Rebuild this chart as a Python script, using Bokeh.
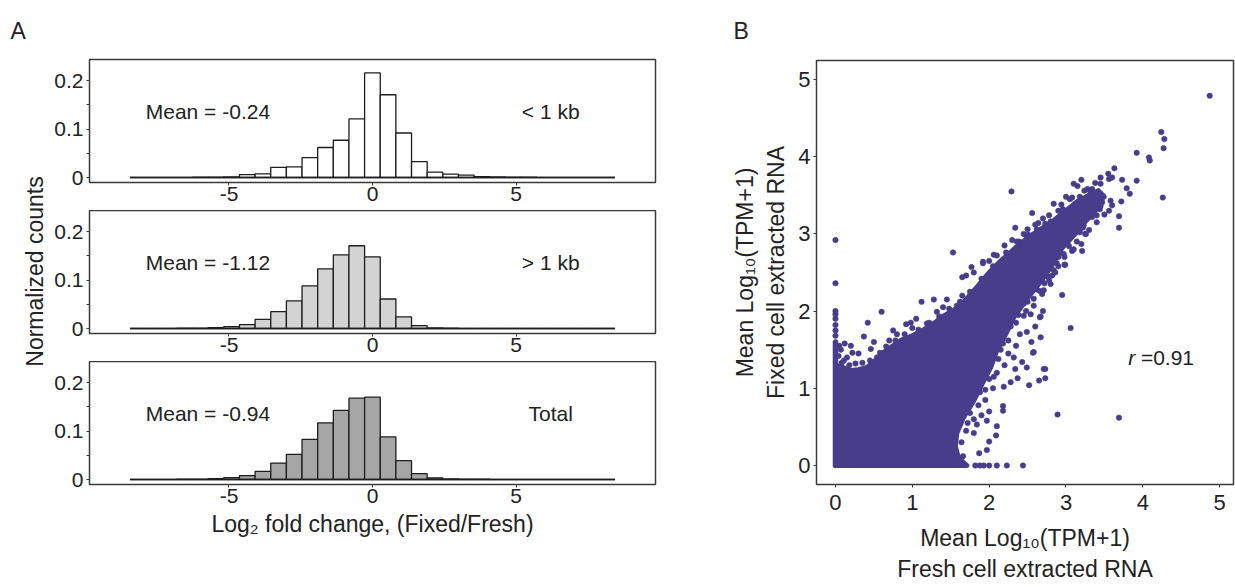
from bokeh.plotting import figure
from bokeh.layouts import row, column
from bokeh.models import Label, Range1d, FixedTicker
from bokeh.embed import file_html
from bokeh.resources import INLINE
import numpy as np

FONT = "Liberation Sans"
TXT = "#222222"
FRAME = "#3a3a3a"
PURPLE = "#483d8b"

# ---------------- histogram data ----------------
bin_start = -8.45
bin_width = 0.545
# normalized counts per bin (31 bins, centred on 0)
h_short = [0, 0, 0, 0, 0.0005, 0.001, 0.0015, 0.006, 0.0076, 0.021, 0.022, 0.041, 0.062, 0.077, 0.121,
           0.216, 0.171, 0.092, 0.033, 0.011, 0.007, 0.005, 0.002, 0.0015, 0.001, 0.0005, 0, 0, 0, 0, 0]
h_long = [0, 0, 0, 0.0005, 0.0007, 0.002, 0.004, 0.008, 0.019, 0.035, 0.057, 0.088, 0.123, 0.152, 0.171,
          0.148, 0.061, 0.024, 0.006, 0.0015, 0.0007, 0, 0, 0, 0, 0, 0, 0, 0, 0, 0]
h_total = [0, 0, 0, 0.0005, 0.0007, 0.002, 0.004, 0.008, 0.017, 0.034, 0.052, 0.083, 0.117, 0.143, 0.168,
           0.170, 0.088, 0.039, 0.012, 0.0035, 0.0014, 0.0007, 0.0005, 0, 0, 0, 0, 0, 0, 0, 0]
panel_heights = [h_short, h_long, h_total]
panel_tags = ["< 1 kb", "> 1 kb", "Total"]
panel_means = ["Mean = -0.24", "Mean = -1.12", "Mean = -0.94"]
panel_fills = ["#ffffff", "#d3d3d3", "#a6a6a6"]
hist_xticks = [-5, 0, 5]
hist_yticks = [0, 0.1, 0.2]

# ---------------- scatter data ----------------
# outline of the densely packed cloud of genes
cloud_x = [0, 0, 0.1, 0.2, 0.3, 0.41, 0.52, 0.63, 0.75, 0.85, 1.0, 1.15, 1.28, 1.4, 1.55, 1.7, 1.85,
           2.0, 2.15, 2.3, 2.41, 2.55, 2.7, 2.85, 3.0, 3.15, 3.3, 3.42, 3.48, 3.46, 3.38, 3.26, 3.12,
           2.95, 2.82, 2.7, 2.54, 2.42, 2.32, 2.22, 2.1, 2.02, 1.91, 1.8, 1.67, 1.58, 1.56, 1.6, 1.71]
cloud_y = [0, 1.30, 1.27, 1.23, 1.24, 1.27, 1.36, 1.47, 1.55, 1.62, 1.68, 1.76, 1.84, 1.93, 2.02, 2.15, 2.32,
           2.5, 2.65, 2.78, 2.88, 2.98, 3.08, 3.18, 3.30, 3.42, 3.50, 3.56, 3.50, 3.40, 3.30, 3.17, 3.00,
           2.82, 2.60, 2.42, 2.22, 2.06, 1.92, 1.71, 1.49, 1.27, 1.06, 0.84, 0.63, 0.42, 0.25, 0.1, 0.0]
column_top = 1.6   # genes with zero fresh-cell expression, densely stacked
genes = [
    (4.87, 4.79), (4.24, 4.32), (4.28, 4.23), (4.27, 4.11), (3.92, 4.05), (4.08, 3.99), (4.09, 3.95),
    (3.92, 3.69), (4.26, 3.47), (3.63, 3.85), (3.55, 3.78), (3.60, 3.73), (3.73, 3.70), (3.45, 3.73),
    (3.79, 3.59), (3.83, 3.52), (3.72, 3.42), (3.69, 3.23), (3.69, 3.08), (3.20, 3.70), (3.10, 3.65),
    (3.15, 3.62), (2.56, 3.27), (2.84, 3.39), (2.51, 2.99), (3.21, 2.78), (2.99, 2.60), (2.29, 3.55),
    (2.34, 3.08), (2.39, 2.90), (2.06, 2.73), (1.92, 2.64), (1.77, 2.57), (1.53, 2.76), (0, 2.92),
    (0, 2.36), (3.34, 3.58), (3.45, 3.65), (3.56, 3.71), (3.28, 3.58), (3.34, 3.52), (3.49, 3.48),
    (3.47, 3.41), (3.58, 3.43), (3.60, 3.37), (3.56, 3.30), (3.44, 3.32), (3.30, 3.22), (3.23, 3.11),
    (3.25, 3.00), (3.20, 2.87), (3.02, 2.87), (2.97, 2.74), (2.93, 3.00), (2.84, 2.83), (3.12, 3.39),
    (2.93, 3.30), (3.00, 3.48), (2.67, 3.04), (2.73, 3.13),
    (0.60, 1.99), (0.42, 1.85), (0.37, 1.67), (1.12, 2.12), (1.28, 2.15), (0.98, 1.85), (0.92, 1.83),
    (1.19, 1.84), (1.32, 1.99), (1.50, 1.99), (1.58, 2.07), (1.65, 2.20), (1.70, 2.46), (1.65, 2.44),
    (1.92, 2.62), (0.22, 1.46), (0.11, 1.36), (0.15, 1.40), (0.46, 1.51), (0.54, 1.40), (0.30, 1.45),
    (0.70, 1.62), (0.80, 1.70), (0.75, 1.75), (0.50, 1.60), (0.20, 1.55), (1.00, 1.78), (1.05, 1.90),
    (1.40, 2.05), (1.45, 2.15), (1.80, 2.50), (2.00, 2.65), (2.10, 2.72), (2.20, 2.85), (2.30, 2.92),
    (2.45, 3.00), (2.60, 3.12), (2.70, 3.20), (2.90, 3.30), (3.05, 3.45),
    (0, 1.68), (0, 1.75), (0, 1.82), (0, 1.90), (0, 1.96), (0, 2.00),
    (2.19, 1.02), (2.18, 0.77), (2.18, 0.71), (2.10, 0.51), (2.09, 0.39), (2.00, 0.31), (1.87, 0.16),
    (1.97, 0.20), (1.80, 0.42), (1.84, 0.53), (1.97, 0.58), (2.89, 0.66), (3.69, 0.62), (3.06, 1.78),
    (2.73, 1.13), (2.71, 1.25), (2.65, 1.10), (2.52, 1.04), (2.58, 1.47), (2.43, 1.34), (2.49, 1.27),
    (2.67, 1.66), (2.66, 1.92), (2.58, 2.07), (2.69, 2.22), (2.95, 2.21), (2.98, 2.60), (2.67, 1.93),
    (2.57, 1.46), (2.73, 1.25), (2.37, 1.13), (2.28, 1.08), (2.34, 1.25), (2.32, 1.40), (2.23, 0),
    (2.44, 0), (2.10, 0), (1.82, 0), (1.93, 0), (2.00, 0), (1.88, 0), (2.82, 2.46), (2.84, 2.53),
    (2.80, 2.35), (2.71, 2.27), (2.54, 1.96), (2.45, 1.94), (2.49, 1.73), (2.40, 1.70), (2.35, 1.55),
    (2.25, 1.45), (2.20, 1.30), (2.10, 1.20), (2.05, 1.00), (1.95, 0.85), (2.00, 0.70), (1.90, 0.65),
    (1.80, 0.60), (2.30, 1.90), (2.45, 2.10), (2.60, 2.35), (2.75, 2.60), (2.90, 2.70), (3.00, 2.90),
    (3.10, 2.80), (3.30, 3.05), (3.40, 3.15), (3.50, 3.25), (2.55, 1.60), (2.60, 1.80), (2.70, 2.00),
    # genes along the lower / right edge of the cloud
    (1.66, 0.12), (1.64, 0.30), (1.70, 0.45), (1.75, 0.68), (1.86, 0.78), (1.95, 0.98), (2.06, 1.15),
    (2.12, 1.38), (2.18, 1.58), (2.28, 1.80), (2.38, 1.95), (2.50, 2.12), (2.62, 2.28), (2.76, 2.45),
    (2.88, 2.62), (3.04, 2.84), (3.18, 3.02), (3.34, 3.22), (3.45, 3.36), (1.72, 0.55), (1.88, 0.95),
    (2.00, 1.12), (2.15, 1.50), (2.25, 1.62), (2.35, 1.85), (2.48, 2.00), (2.58, 2.16), (2.72, 2.36),
    (2.86, 2.50), (2.98, 2.70), (3.14, 2.90), (3.22, 3.08), (2.90, 2.58), (3.08, 2.78), (3.26, 3.00),
    (3.40, 3.24), (2.78, 2.40), (2.66, 2.26),
    # genes along the upper edge of the cloud
    (0.08, 1.33), (0.18, 1.30), (0.26, 1.32), (0.35, 1.33), (0.45, 1.36), (0.58, 1.46), (0.66, 1.54),
    (0.78, 1.62), (0.90, 1.70), (1.08, 1.76), (1.22, 1.85), (1.35, 1.93), (1.48, 2.03), (1.62, 2.12),
    (1.75, 2.25), (1.90, 2.42), (2.05, 2.58), (2.22, 2.76), (2.36, 2.90), (2.50, 3.06), (2.64, 3.14),
    (2.78, 3.24), (2.94, 3.38), (3.08, 3.47), (3.24, 3.56), (3.38, 3.66), (0.04, 1.42), (0.07, 1.50),
    (0.12, 1.58), (0.05, 1.55), (2.48, 2.98), (2.62, 3.06), (2.80, 3.16), (2.96, 3.32), (3.18, 3.48),
    (3.32, 3.54),
]
scatter_ticks = [0, 1, 2, 3, 4, 5]
r_text = "=0.91"

STRIP_H = 58   # height of the strip holding the panel letters


def style_axes(p, tick_size):
    p.xgrid.visible = False
    p.ygrid.visible = False
    p.outline_line_color = FRAME
    p.outline_line_width = 1.5
    p.background_fill_color = "white"
    p.border_fill_color = "white"
    for ax in (p.xaxis[0], p.yaxis[0]):
        ax.axis_line_color = None
        ax.major_tick_line_color = FRAME
        ax.major_tick_line_width = 1
        ax.major_tick_in = 0
        ax.major_tick_out = 3
        ax.minor_tick_in = 0
        ax.minor_tick_out = 3
        ax.minor_tick_line_color = FRAME
        ax.major_label_text_font = FONT
        ax.major_label_text_font_size = tick_size
        ax.major_label_text_color = TXT
        ax.axis_label_text_font = FONT
        ax.axis_label_text_font_style = "normal"
        ax.axis_label_text_color = TXT


def blank(p):
    p.axis.visible = False
    p.grid.visible = False
    p.outline_line_color = None
    p.background_fill_color = "white"
    p.border_fill_color = "white"


# ---------------- strip with the panel letters ----------------
strip = figure(width=1235, height=STRIP_H, x_range=Range1d(0, 1235), y_range=Range1d(0, STRIP_H),
               output_backend="svg", toolbar_location=None, min_border=0)
blank(strip)
strip.add_layout(Label(x=10, y=STRIP_H - 30, text="A", text_font=FONT, text_font_size="23px",
                       text_color=TXT, text_baseline="alphabetic"))
strip.add_layout(Label(x=733, y=STRIP_H - 30, text="B", text_font=FONT, text_font_size="23px",
                       text_color=TXT, text_baseline="alphabetic"))

# ---------------- left strip with the shared y label ----------------
# its frame is given the same borders as the scatter plot (frame = page y 60..484)
lab = figure(width=50, height=587 - STRIP_H, x_range=Range1d(0, 50), y_range=Range1d(103, 527),
             output_backend="svg", toolbar_location=None, min_border_left=0, min_border_right=0,
             min_border_top=60 - STRIP_H, min_border_bottom=103)
blank(lab)
lab.add_layout(Label(x=34, y=316, text="Normalized counts", angle=np.pi / 2, text_font=FONT,
                     text_font_size="23px", text_color=TXT, text_align="center", text_baseline="middle"))


def hist_fig(k, height, top, bottom):
    heights = panel_heights[k]
    p = figure(width=650, height=height, x_range=Range1d(-9.86, 9.86), y_range=Range1d(-0.0103, 0.2438),
               output_backend="svg", toolbar_location=None, min_border_left=39, min_border_right=45,
               min_border_top=top, min_border_bottom=bottom)
    style_axes(p, "21px")
    p.xaxis.ticker = FixedTicker(ticks=hist_xticks)
    p.xaxis.major_label_overrides = {-5: "-5", 0: "0", 5: "5"}
    p.xaxis.minor_tick_line_color = None
    p.xaxis.major_label_standoff = 1
    p.yaxis.ticker = FixedTicker(ticks=hist_yticks, minor_ticks=[0.05, 0.15])
    p.yaxis.major_label_overrides = {0: "0", 0.1: "0.1", 0.2: "0.2"}
    p.yaxis.major_label_standoff = 3
    edges = bin_start + bin_width * np.arange(len(heights) + 1)
    p.quad(left=edges[:-1], right=edges[1:], bottom=0, top=heights,
           fill_color=panel_fills[k], line_color="#1e1e1e", line_width=1.3)
    p.line(x=[edges[0], edges[-1]], y=[0, 0], line_color="#1e1e1e", line_width=1.5)
    p.add_layout(Label(x=-7.9, y=0.136, text=panel_means[k], text_font=FONT, text_font_size="21px",
                       text_color=TXT, text_baseline="alphabetic"))
    p.add_layout(Label(x=6.21, y=0.136, text=panel_tags[k], text_font=FONT, text_font_size="21px",
                       text_color=TXT, text_baseline="alphabetic", text_align="center"))
    return p


f1 = hist_fig(0, 210 - STRIP_H, 59 - STRIP_H, 28)
f2 = hist_fig(1, 151, 0, 28)
f3 = hist_fig(2, 226, 0, 103)
f3.xaxis.axis_label = "Log\u2082 fold change, (Fixed/Fresh)"
f3.xaxis.axis_label_text_font_size = "23px"
f3.xaxis.axis_label_standoff = 5

# ---------------- scatter ----------------
s = figure(width=535, height=587 - STRIP_H, x_range=Range1d(-0.247, 5.18), y_range=Range1d(-0.246, 5.246),
           output_backend="svg", toolbar_location=None, min_border_left=116, min_border_right=2,
           min_border_top=60 - STRIP_H, min_border_bottom=103)
style_axes(s, "22px")
s.xaxis.ticker = FixedTicker(ticks=scatter_ticks)
s.yaxis.ticker = FixedTicker(ticks=scatter_ticks)
s.xaxis.major_label_standoff = 7
s.yaxis.major_label_standoff = 3
s.xaxis.axis_label = "Mean Log\u2081\u2080(TPM+1)\nFresh cell extracted RNA"
s.yaxis.axis_label = "Mean Log\u2081\u2080(TPM+1)\nFixed cell extracted RNA"
s.xaxis.axis_label_text_font_size = "23px"
s.yaxis.axis_label_text_font_size = "23px"
s.xaxis.axis_label_standoff = 12
s.yaxis.axis_label_standoff = 6

s.patch(cloud_x, cloud_y, fill_color=PURPLE, line_color=PURPLE, line_width=5, line_join="round")
s.segment(x0=[0], y0=[0], x1=[0], y1=[column_top], line_color=PURPLE, line_width=5.5, line_cap="round")
gx = [g[0] for g in genes]
gy = [g[1] for g in genes]
s.scatter(gx, gy, size=5.5, fill_color=PURPLE, line_color=PURPLE, line_width=0.5)
s.add_layout(Label(x=3.81, y=1.395, text="r", text_font=FONT, text_font_style="italic",
                   text_font_size="21px", text_color=TXT, text_baseline="alphabetic"))
s.add_layout(Label(x=3.975, y=1.395, text=r_text, text_font=FONT, text_font_size="21px",
                   text_color=TXT, text_baseline="alphabetic"))

layout = column(strip, row(lab, column(f1, f2, f3, spacing=0), s, spacing=0), spacing=0)
open("out.html", "w").write(file_html(layout, INLINE))
